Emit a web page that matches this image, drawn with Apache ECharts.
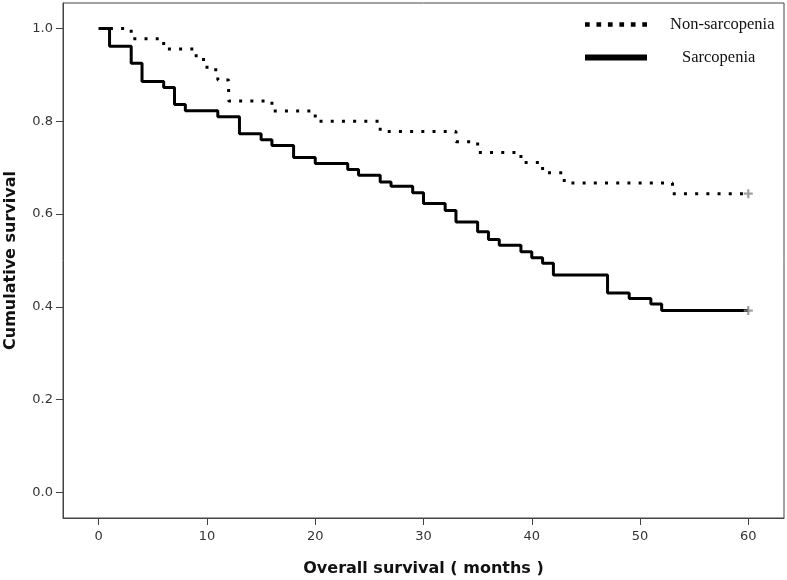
<!DOCTYPE html>
<html>
<head>
<meta charset="utf-8">
<script src="https://cdn.jsdelivr.net/npm/echarts@6/dist/echarts.min.js"></script>
<style>
html,body{margin:0;padding:0;background:#fff;}
#chart{width:787px;height:580px;}
</style>
</head>
<body>
<div id="chart"></div>
<script>
// Sarcopenia group (solid line): event times (months) and survival after each step
var sarcTime = [0, 1, 3, 4, 6, 7, 8, 11, 13, 15, 16, 18, 20, 23, 24, 26, 27, 29, 30, 32, 33, 35, 36, 37, 39, 40, 41, 42, 47, 49, 51, 52, 60];
var sarcSurv = [1.0, 0.962, 0.925, 0.886, 0.873, 0.836, 0.823, 0.810, 0.773, 0.760, 0.748, 0.722, 0.709, 0.696, 0.684, 0.669, 0.660, 0.646, 0.623, 0.608, 0.583, 0.562, 0.545, 0.533, 0.519, 0.506, 0.494, 0.469, 0.430, 0.418, 0.406, 0.392, 0.392];
// Non-sarcopenia group (dotted line)
var nonTime = [0, 3, 6, 9, 10, 11, 12, 16, 20, 26, 33, 35, 39, 41, 43, 53, 60];
var nonSurv = [1.0, 0.978, 0.956, 0.933, 0.911, 0.889, 0.844, 0.822, 0.800, 0.778, 0.756, 0.733, 0.711, 0.689, 0.667, 0.644, 0.644];
// Censored observations (end of follow-up)
var censorSarc = [[60, 0.392]];
var censorNon = [[60, 0.644]];
// Tick labels
var xTicks = [0, 10, 20, 30, 40, 50, 60];
var yTicks = [0, 0.2, 0.4, 0.6, 0.8, 1.0];
var seriesNames = ['Non-sarcopenia', 'Sarcopenia'];

function pairs(t, s) { return t.map(function (v, i) { return [v, s[i]]; }); }

var chart = echarts.init(document.getElementById('chart'), null, { renderer: 'canvas' });
var axisColor = '#444';
var plusPath = 'path://M3,0H5V3H8V5H5V8H3V5H0V3H3Z';
var dotIcon = 'path://M0,0H4.7V4.7H0Z M11.46,0H16.16V4.7H11.46Z M22.92,0H27.62V4.7H22.92Z M34.38,0H39.08V4.7H34.38Z M45.84,0H50.54V4.7H45.84Z M57.3,0H62V4.7H57.3Z';
var solidIcon = 'path://M0,0H62V6H0Z';

chart.setOption({
  animation: false,
  backgroundColor: '#fff',
  grid: { left: 63, right: 3, top: 3, bottom: 62, show: true, borderColor: axisColor, borderWidth: 1, containLabel: false, outerBoundsMode: 'none' },
  legend: {
    orient: 'vertical',
    left: 585,
    top: 16,
    padding: 0,
    itemWidth: 62,
    itemHeight: 14,
    itemGap: 16,
    selectedMode: false,
    data: [
      { name: seriesNames[0], icon: dotIcon, itemStyle: { color: '#000' } },
      { name: seriesNames[1], icon: solidIcon, itemStyle: { color: '#000' } }
    ],
    formatter: function (name) {
      return name === seriesNames[0] ? '{a|' + name + '}' : '{b|' + name + '}';
    },
    textStyle: {
      fontFamily: 'Liberation Serif',
      fontSize: 16.5,
      color: '#111',
      rich: {
        a: { fontFamily: 'Liberation Serif', fontSize: 16.5, color: '#111', padding: [0, 0, 0, 18] },
        b: { fontFamily: 'Liberation Serif', fontSize: 16.5, color: '#111', padding: [0, 0, 0, 30] }
      }
    }
  },
  xAxis: {
    type: 'value',
    min: -3.3,
    max: 63.3,
    name: 'Overall survival ( months )',
    nameLocation: 'middle',
    nameGap: 43,
    nameTextStyle: { fontFamily: 'DejaVu Sans', fontWeight: 'bold', fontSize: 16, color: '#111' },
    axisLine: { show: true, onZero: false, lineStyle: { color: axisColor, width: 1 } },
    axisTick: { show: true, length: 7, customValues: xTicks, lineStyle: { color: axisColor } },
    axisLabel: { customValues: xTicks, fontFamily: 'DejaVu Sans', fontSize: 13, color: '#333', margin: 12 },
    splitLine: { show: false }
  },
  yAxis: {
    type: 'value',
    min: -0.055,
    max: 1.055,
    name: 'Cumulative survival',
    nameLocation: 'middle',
    nameGap: 44,
    nameTextStyle: { fontFamily: 'DejaVu Sans', fontWeight: 'bold', fontSize: 16, color: '#111' },
    axisLine: { show: true, onZero: false, lineStyle: { color: axisColor, width: 1 } },
    axisTick: { show: true, length: 7, customValues: yTicks, lineStyle: { color: axisColor } },
    axisLabel: {
      customValues: yTicks, fontFamily: 'DejaVu Sans', fontSize: 13, color: '#333', margin: 10,
      formatter: function (v) { return v.toFixed(1); }
    },
    splitLine: { show: false }
  },
  series: [
    {
      name: seriesNames[0], type: 'line', step: 'end', symbol: 'none',
      data: pairs(nonTime, nonSurv),
      lineStyle: { color: '#000', width: 3, type: [3, 8.2], cap: 'butt' },
      itemStyle: { color: '#000' }, z: 3
    },
    {
      name: seriesNames[1], type: 'line', step: 'end', symbol: 'none',
      data: pairs(sarcTime, sarcSurv),
      lineStyle: { color: '#000', width: 3, type: 'solid' },
      itemStyle: { color: '#000' }, z: 2
    },
    {
      name: 'censor-non', type: 'scatter', symbol: plusPath, symbolSize: 9,
      data: censorNon, itemStyle: { color: '#888' }, z: 4
    },
    {
      name: 'censor-sarc', type: 'scatter', symbol: plusPath, symbolSize: 9,
      data: censorSarc, itemStyle: { color: '#888' }, z: 4
    }
  ]
});
</script>
</body>
</html>
